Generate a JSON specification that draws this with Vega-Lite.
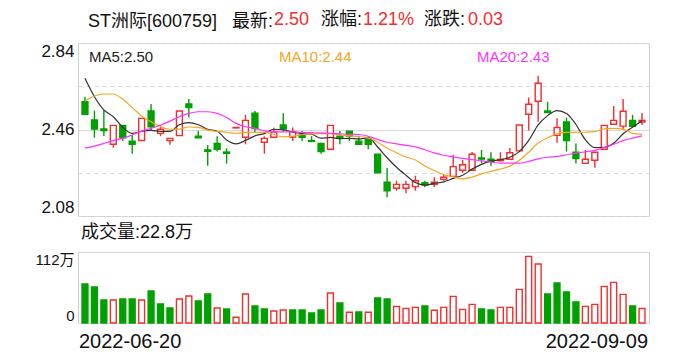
{
  "$schema": "https://vega.github.io/schema/vega-lite/v6.json",
  "autosize": {"type": "pad"},
  "padding": {"left": 34, "top": 10, "right": 5, "bottom": 5},
  "background": "white",
  "bounds": "flush",
  "spacing": 36,
  "config": {
    "font": "Liberation Sans, Noto Sans CJK SC",
    "view": {"stroke": "#cfcfcf", "strokeWidth": 1},
    "axis": {"domain": false, "ticks": false, "grid": false, "labelColor": "#111111", "labelFont": "Liberation Sans, Noto Sans CJK SC", "title": null},
    "legend": {"padding": 0}
  },
  "resolve": {"scale": {"color": "independent", "shape": "independent", "strokeDash": "independent"}},
  "datasets": {
    "k": [
      {"d":"2022-06-20","o":2.582,"h":2.604,"l":2.527,"c":2.527,"v":61.5,"u":0,"m5":2.685,"m10":2.585,"m20":2.378},
      {"d":"2022-06-21","o":2.502,"h":2.543,"l":2.424,"c":2.462,"v":56.8,"u":0,"m5":2.604,"m10":2.607,"m20":2.387},
      {"d":"2022-06-22","o":2.462,"h":2.546,"l":2.431,"c":2.455,"v":36.3,"u":0,"m5":2.546,"m10":2.616,"m20":2.399},
      {"d":"2022-06-23","o":2.395,"h":2.478,"l":2.380,"c":2.478,"v":36.3,"u":1,"m5":2.516,"m10":2.616,"m20":2.411},
      {"d":"2022-06-24","o":2.478,"h":2.478,"l":2.409,"c":2.424,"v":37.8,"u":0,"m5":2.469,"m10":2.593,"m20":2.421},
      {"d":"2022-06-27","o":2.409,"h":2.436,"l":2.354,"c":2.395,"v":37.8,"u":0,"m5":2.443,"m10":2.557,"m20":2.436},
      {"d":"2022-06-28","o":2.412,"h":2.509,"l":2.412,"c":2.509,"v":36.3,"u":1,"m5":2.452,"m10":2.519,"m20":2.453},
      {"d":"2022-06-29","o":2.541,"h":2.572,"l":2.455,"c":2.472,"v":50.5,"u":0,"m5":2.456,"m10":2.494,"m20":2.465},
      {"d":"2022-06-30","o":2.443,"h":2.477,"l":2.431,"c":2.461,"v":30.0,"u":0,"m5":2.452,"m10":2.472,"m20":2.480},
      {"d":"2022-07-01","o":2.411,"h":2.421,"l":2.393,"c":2.421,"v":23.7,"u":0,"m5":2.452,"m10":2.461,"m20":2.497},
      {"d":"2022-07-04","o":2.433,"h":2.541,"l":2.433,"c":2.541,"v":37.8,"u":1,"m5":2.481,"m10":2.462,"m20":2.516},
      {"d":"2022-07-05","o":2.572,"h":2.594,"l":2.513,"c":2.556,"v":42.6,"u":1,"m5":2.490,"m10":2.471,"m20":2.531},
      {"d":"2022-07-06","o":2.431,"h":2.453,"l":2.424,"c":2.424,"v":34.7,"u":0,"m5":2.481,"m10":2.469,"m20":2.538},
      {"d":"2022-07-07","o":2.370,"h":2.392,"l":2.301,"c":2.364,"v":45.7,"u":0,"m5":2.461,"m10":2.457,"m20":2.538},
      {"d":"2022-07-08","o":2.399,"h":2.430,"l":2.363,"c":2.373,"v":23.7,"u":1,"m5":2.452,"m10":2.452,"m20":2.531},
      {"d":"2022-07-11","o":2.361,"h":2.377,"l":2.310,"c":2.355,"v":22.1,"u":0,"m5":2.414,"m10":2.448,"m20":2.513},
      {"d":"2022-07-12","o":2.467,"h":2.470,"l":2.466,"c":2.469,"v":9.0,"u":1,"m5":2.397,"m10":2.444,"m20":2.487},
      {"d":"2022-07-13","o":2.426,"h":2.524,"l":2.395,"c":2.500,"v":45.7,"u":1,"m5":2.412,"m10":2.447,"m20":2.472},
      {"d":"2022-07-14","o":2.532,"h":2.541,"l":2.448,"c":2.464,"v":26.8,"u":0,"m5":2.432,"m10":2.447,"m20":2.465},
      {"d":"2022-07-15","o":2.404,"h":2.430,"l":2.354,"c":2.421,"v":22.1,"u":0,"m5":2.442,"m10":2.447,"m20":2.454},
      {"d":"2022-07-18","o":2.426,"h":2.468,"l":2.426,"c":2.449,"v":18.9,"u":1,"m5":2.461,"m10":2.438,"m20":2.450},
      {"d":"2022-07-19","o":2.480,"h":2.531,"l":2.450,"c":2.462,"v":20.5,"u":1,"m5":2.459,"m10":2.428,"m20":2.450},
      {"d":"2022-07-20","o":2.427,"h":2.469,"l":2.409,"c":2.450,"v":20.5,"u":0,"m5":2.449,"m10":2.431,"m20":2.450},
      {"d":"2022-07-21","o":2.436,"h":2.453,"l":2.409,"c":2.426,"v":20.5,"u":0,"m5":2.442,"m10":2.437,"m20":2.447},
      {"d":"2022-07-22","o":2.411,"h":2.431,"l":2.404,"c":2.408,"v":15.8,"u":0,"m5":2.439,"m10":2.441,"m20":2.446},
      {"d":"2022-07-25","o":2.399,"h":2.399,"l":2.354,"c":2.363,"v":20.5,"u":0,"m5":2.422,"m10":2.442,"m20":2.445},
      {"d":"2022-07-26","o":2.373,"h":2.478,"l":2.373,"c":2.478,"v":47.3,"u":1,"m5":2.425,"m10":2.442,"m20":2.443},
      {"d":"2022-07-27","o":2.431,"h":2.453,"l":2.395,"c":2.423,"v":31.5,"u":0,"m5":2.420,"m10":2.435,"m20":2.441},
      {"d":"2022-07-28","o":2.453,"h":2.453,"l":2.409,"c":2.431,"v":16.9,"u":1,"m5":2.421,"m10":2.432,"m20":2.439},
      {"d":"2022-07-29","o":2.409,"h":2.431,"l":2.395,"c":2.395,"v":17.3,"u":0,"m5":2.418,"m10":2.429,"m20":2.438},
      {"d":"2022-08-01","o":2.417,"h":2.417,"l":2.373,"c":2.395,"v":16.9,"u":1,"m5":2.424,"m10":2.423,"m20":2.430},
      {"d":"2022-08-02","o":2.352,"h":2.352,"l":2.270,"c":2.270,"v":39.4,"u":0,"m5":2.383,"m10":2.404,"m20":2.416},
      {"d":"2022-08-03","o":2.228,"h":2.291,"l":2.162,"c":2.191,"v":37.8,"u":0,"m5":2.336,"m10":2.378,"m20":2.404},
      {"d":"2022-08-04","o":2.202,"h":2.235,"l":2.191,"c":2.219,"v":26.3,"u":1,"m5":2.294,"m10":2.358,"m20":2.397},
      {"d":"2022-08-05","o":2.202,"h":2.235,"l":2.180,"c":2.219,"v":23.1,"u":1,"m5":2.259,"m10":2.339,"m20":2.390},
      {"d":"2022-08-08","o":2.209,"h":2.257,"l":2.191,"c":2.235,"v":24.7,"u":1,"m5":2.227,"m10":2.326,"m20":2.384},
      {"d":"2022-08-09","o":2.226,"h":2.235,"l":2.206,"c":2.216,"v":26.8,"u":0,"m5":2.216,"m10":2.300,"m20":2.371},
      {"d":"2022-08-10","o":2.219,"h":2.250,"l":2.207,"c":2.228,"v":20.0,"u":1,"m5":2.223,"m10":2.280,"m20":2.357},
      {"d":"2022-08-11","o":2.241,"h":2.265,"l":2.235,"c":2.250,"v":24.7,"u":1,"m5":2.230,"m10":2.262,"m20":2.347},
      {"d":"2022-08-12","o":2.254,"h":2.349,"l":2.254,"c":2.297,"v":42.0,"u":1,"m5":2.245,"m10":2.252,"m20":2.340},
      {"d":"2022-08-15","o":2.281,"h":2.326,"l":2.270,"c":2.305,"v":21.5,"u":1,"m5":2.259,"m10":2.243,"m20":2.333},
      {"d":"2022-08-16","o":2.281,"h":2.361,"l":2.281,"c":2.351,"v":29.4,"u":1,"m5":2.286,"m10":2.251,"m20":2.328},
      {"d":"2022-08-17","o":2.335,"h":2.370,"l":2.311,"c":2.330,"v":22.1,"u":0,"m5":2.307,"m10":2.265,"m20":2.322},
      {"d":"2022-08-18","o":2.329,"h":2.360,"l":2.300,"c":2.320,"v":20.5,"u":0,"m5":2.321,"m10":2.276,"m20":2.317},
      {"d":"2022-08-19","o":2.323,"h":2.360,"l":2.320,"c":2.329,"v":24.7,"u":1,"m5":2.327,"m10":2.286,"m20":2.312},
      {"d":"2022-08-22","o":2.329,"h":2.379,"l":2.329,"c":2.358,"v":24.7,"u":1,"m5":2.338,"m10":2.299,"m20":2.312},
      {"d":"2022-08-23","o":2.366,"h":2.480,"l":2.366,"c":2.480,"v":53.1,"u":1,"m5":2.363,"m10":2.325,"m20":2.312},
      {"d":"2022-08-24","o":2.527,"h":2.601,"l":2.456,"c":2.571,"v":105.1,"u":1,"m5":2.412,"m10":2.360,"m20":2.320},
      {"d":"2022-08-25","o":2.584,"h":2.696,"l":2.494,"c":2.663,"v":93.0,"u":1,"m5":2.480,"m10":2.401,"m20":2.331},
      {"d":"2022-08-26","o":2.541,"h":2.582,"l":2.534,"c":2.534,"v":45.7,"u":0,"m5":2.521,"m10":2.424,"m20":2.338},
      {"d":"2022-08-29","o":2.434,"h":2.509,"l":2.402,"c":2.469,"v":63.1,"u":0,"m5":2.543,"m10":2.441,"m20":2.342},
      {"d":"2022-08-30","o":2.493,"h":2.512,"l":2.363,"c":2.411,"v":48.9,"u":0,"m5":2.530,"m10":2.447,"m20":2.349},
      {"d":"2022-08-31","o":2.360,"h":2.399,"l":2.311,"c":2.332,"v":33.1,"u":0,"m5":2.482,"m10":2.447,"m20":2.356},
      {"d":"2022-09-01","o":2.311,"h":2.370,"l":2.311,"c":2.329,"v":26.3,"u":1,"m5":2.415,"m10":2.448,"m20":2.362},
      {"d":"2022-09-02","o":2.325,"h":2.360,"l":2.292,"c":2.360,"v":29.4,"u":1,"m5":2.380,"m10":2.451,"m20":2.368},
      {"d":"2022-09-05","o":2.373,"h":2.478,"l":2.373,"c":2.478,"v":57.8,"u":1,"m5":2.382,"m10":2.463,"m20":2.381},
      {"d":"2022-09-06","o":2.483,"h":2.563,"l":2.483,"c":2.500,"v":64.1,"u":1,"m5":2.400,"m10":2.465,"m20":2.395},
      {"d":"2022-09-07","o":2.475,"h":2.594,"l":2.461,"c":2.540,"v":45.2,"u":1,"m5":2.441,"m10":2.462,"m20":2.411},
      {"d":"2022-09-08","o":2.500,"h":2.524,"l":2.474,"c":2.474,"v":26.8,"u":0,"m5":2.470,"m10":2.443,"m20":2.422},
      {"d":"2022-09-09","o":2.493,"h":2.532,"l":2.480,"c":2.500,"v":22.8,"u":1,"m5":2.498,"m10":2.439,"m20":2.432}
    ],
    "hdr": [
      {"t": "2.50"},
      {"t": "1.21%"},
      {"t": "0.03"}
    ],
    "hdr2": [
      {"t2": "涨幅:"},
      {"t2": "涨跌:"}
    ]
  },
  "vconcat": [
    {
      "width": 571,
      "height": 173,
      "data": {"name": "k"},
      "title": {"text": "ST洲际[600759]\u00a0\u00a0\u00a0最新:", "anchor": "start", "frame": "group", "fontSize": 18, "fontWeight": "normal", "color": "#111111", "offset": -20, "dx": 10},
      "layer": [
        {
          "transform": [{"filter": "datum.c >= datum.o"}],
          "mark": {"type": "rule", "color": "#f42c2c", "strokeWidth": 1.4},
          "encoding": {
            "x": {"field": "d", "type": "ordinal", "scale": {"paddingInner": 0.22, "paddingOuter": 0.35}, "axis": null},
            "y": {"field": "l", "type": "quantitative", "scale": {"domain": [2.08, 2.84], "zero": false, "nice": false}, "title": null,
                  "axis": {"values": [2.08, 2.27, 2.46, 2.65, 2.84], "labelExpr": "datum.value == 2.27 || datum.value == 2.65 ? '' : format(datum.value, '.2f')", "grid": true, "gridColor": "#d8d8d8", "gridDash": {"condition": {"test": "datum.value == 2.46", "value": []}, "value": [4, 4]}, "labelFlush": true, "labelFontSize": 17, "labelPadding": 4}},
            "y2": {"field": "h"}
          }
        },
        {
          "transform": [{"filter": "datum.c < datum.o"}],
          "mark": {"type": "rule", "color": "#00a000", "strokeWidth": 1.4},
          "encoding": {
            "x": {"field": "d", "type": "ordinal", "axis": null},
            "y": {"field": "l", "type": "quantitative", "title": null},
            "y2": {"field": "h"}
          }
        },
        {
          "transform": [{"filter": "datum.c >= datum.o"}],
          "mark": {"type": "bar", "fill": "white", "stroke": "#f42c2c", "strokeWidth": 1.4, "width": {"band": 0.8}},
          "encoding": {
            "x": {"field": "d", "type": "ordinal", "axis": null},
            "y": {"field": "o", "type": "quantitative", "title": null},
            "y2": {"field": "c"}
          }
        },
        {
          "transform": [{"filter": "datum.c < datum.o"}],
          "mark": {"type": "bar", "fill": "#00a000", "stroke": "#00a000", "strokeWidth": 1.4, "width": {"band": 0.8}},
          "encoding": {
            "x": {"field": "d", "type": "ordinal", "axis": null},
            "y": {"field": "o", "type": "quantitative", "title": null},
            "y2": {"field": "c"}
          }
        },
        {
          "transform": [{"fold": ["m5", "m10", "m20"], "as": ["s", "m"]}],
          "mark": {"type": "line", "interpolate": "monotone", "strokeWidth": 1.2},
          "encoding": {
            "x": {"field": "d", "type": "ordinal", "axis": null},
            "y": {"field": "m", "type": "quantitative", "title": null},
            "color": {
              "field": "s", "type": "nominal",
              "scale": {"domain": ["m5", "m10", "m20"], "range": ["#333333", "#f5a623", "#ff33ff"]},
              "legend": {
                "orient": "none", "legendX": -4, "legendY": 6, "direction": "horizontal", "title": null,
                "symbolSize": 0, "symbolStrokeWidth": 0, "symbolOpacity": 0, "labelOffset": 0,
                "columnPadding": 110, "gridAlign": "each", "labelFontSize": 15, "labelFont": "Liberation Sans",
                "labelExpr": "datum.label == 'm5' ? 'MA5:2.50' : datum.label == 'm10' ? 'MA10:2.44' : 'MA20:2.43'",
                "encode": {"labels": {"update": {"fill": {"signal": "datum.value == 'm5' ? '#222222' : datum.value == 'm10' ? '#f5a623' : '#ff33ff'"}}}}
              }
            }
          }
        },
        {
          "data": {"name": "hdr"},
          "mark": {"type": "point", "opacity": 0},
          "encoding": {
            "shape": {
              "field": "t", "type": "nominal",
              "scale": {"domain": ["2.50", "1.21%", "0.03"]},
              "legend": {
                "orient": "none", "legendX": 178, "legendY": -32, "direction": "horizontal", "title": null,
                "symbolSize": 0, "symbolStrokeWidth": 0, "symbolOpacity": 0, "labelOffset": 0,
                "columnPadding": 35, "gridAlign": "each", "labelFontSize": 18, "labelFont": "Liberation Sans", "labelColor": "#f42c2c"
              }
            }
          }
        },
        {
          "data": {"name": "hdr2"},
          "mark": {"type": "point", "opacity": 0},
          "encoding": {
            "strokeDash": {
              "field": "t2", "type": "nominal",
              "scale": {"domain": ["涨幅:", "涨跌:"]},
              "legend": {
                "orient": "none", "legendX": 225, "legendY": -32, "direction": "horizontal", "title": null,
                "symbolSize": 0, "symbolStrokeWidth": 0, "symbolOpacity": 0, "labelOffset": 0,
                "columnPadding": 43, "gridAlign": "each", "labelFontSize": 18, "labelFont": "Liberation Sans, Noto Sans CJK SC", "labelColor": "#111111"
              }
            }
          }
        }
      ]
    },
    {
      "width": 571,
      "height": 71,
      "data": {"name": "k"},
      "title": {"text": "成交量:22.8万", "anchor": "start", "frame": "group", "fontSize": 18, "fontWeight": "normal", "color": "#111111", "offset": 10, "dx": 3},
      "layer": [
        {
          "transform": [{"filter": "datum.u == 1"}],
          "mark": {"type": "bar", "fill": "white", "stroke": "#f42c2c", "strokeWidth": 1.4, "width": {"band": 0.8}},
          "encoding": {
            "x": {"field": "d", "type": "ordinal", "scale": {"paddingInner": 0.22, "paddingOuter": 0.35},
                  "axis": {"values": ["2022-06-20", "2022-09-09"], "labelFlush": 15, "labelFlushOffset": 6, "labelFontSize": 20, "labelPadding": 8, "labelAngle": 0}},
            "y": {"field": "v", "type": "quantitative", "scale": {"domain": [0, 112], "nice": false}, "title": null,
                  "axis": {"values": [0, 56, 112], "labelExpr": "datum.value == 112 ? '112万' : datum.value == 0 ? '0' : ''", "grid": true, "gridColor": "#d8d8d8", "gridDash": {"condition": {"test": "datum.value == 56", "value": [4, 4]}, "value": []}, "labelFlush": true, "labelFontSize": 15, "labelPadding": 4}}
          }
        },
        {
          "transform": [{"filter": "datum.u == 0"}],
          "mark": {"type": "bar", "fill": "#00a000", "stroke": "#00a000", "strokeWidth": 1.4, "width": {"band": 0.8}},
          "encoding": {
            "x": {"field": "d", "type": "ordinal"},
            "y": {"field": "v", "type": "quantitative", "title": null}
          }
        }
      ]
    }
  ]
}
